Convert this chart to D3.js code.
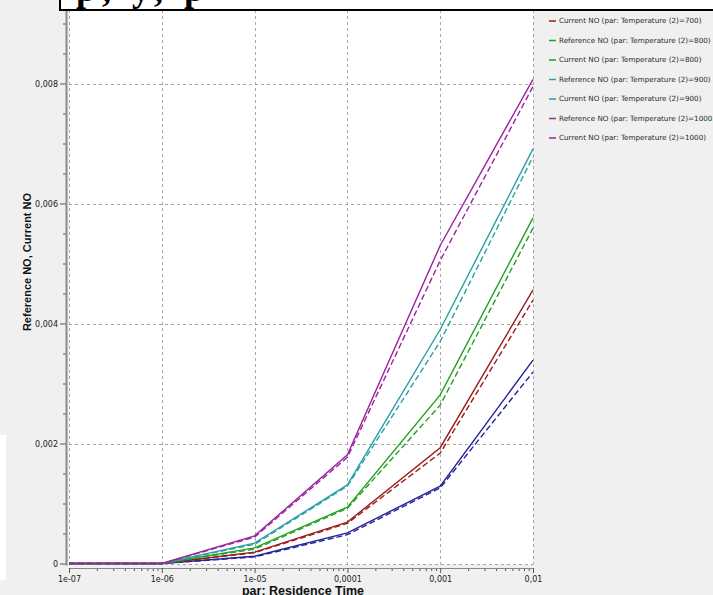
<!DOCTYPE html>
<html>
<head>
<meta charset="utf-8">
<script src="https://cdn.jsdelivr.net/npm/d3@7"></script>
<style>
  body { margin: 0; background: #f0f0f0; }
  svg { display: block; }
  .tick text { font-family: "DejaVu Sans", sans-serif; font-size: 8px; fill: #1a1a1a; }
  .tick line { stroke: #555; }
</style>
</head>
<body>
<script>
// Data
const residenceTime = [1e-7, 1e-6, 1e-5, 1e-4, 1e-3, 1e-2];
const temperatures = [600, 700, 800, 900, 1000];
const colors = ["#23239b", "#9b1c1c", "#23a023", "#2a9fa8", "#9d229f"];
const referenceNO = [
  [0, 0, 0.00012, 0.00051, 0.00129, 0.00339],
  [0, 0, 0.00019, 0.00069, 0.00193, 0.00456],
  [0, 0, 0.00026, 0.00094, 0.00281, 0.00576],
  [0, 0, 0.00034, 0.00131, 0.00390, 0.00691],
  [0, 0, 0.00046, 0.00181, 0.00530, 0.00807]
];
const currentNO = [
  [0, 0, 0.00011, 0.00048, 0.00126, 0.00319],
  [0, 0, 0.00018, 0.00067, 0.00184, 0.00439],
  [0, 0, 0.00024, 0.00092, 0.00264, 0.00559],
  [0, 0, 0.00032, 0.00129, 0.00370, 0.00678],
  [0, 0, 0.00044, 0.00177, 0.00505, 0.00795]
];
const xTicks = [1e-7, 1e-6, 1e-5, 1e-4, 1e-3, 1e-2];
const xTickLabels = ["1e-07", "1e-06", "1e-05", "0,0001", "0,001", "0,01"];
const yTicks = [0, 0.002, 0.004, 0.006, 0.008];
const yTickLabels = ["0", "0,002", "0,004", "0,006", "0,008"];

const W = 713, H = 595;
const plot = { left: 69, right: 533, top: 10, bottom: 563.5 };

const svg = d3.select("body").append("svg")
  .attr("width", W)
  .attr("height", H);

const x = d3.scaleLog()
  .domain([1e-7, 1e-2])
  .range([plot.left, plot.right]);

const y = d3.scaleLinear()
  .domain([0, 0.009225])
  .range([plot.bottom, plot.top]);

// small white strip at the left edge
svg.append("rect")
  .attr("x", 0).attr("y", 435).attr("width", 6).attr("height", 145)
  .attr("fill", "#fff");

// plot background
svg.append("rect")
  .attr("x", plot.left).attr("y", plot.top)
  .attr("width", plot.right - plot.left).attr("height", plot.bottom - plot.top + 1)
  .attr("fill", "#fff");

// grid
const grid = svg.append("g")
  .attr("stroke", "#a8a8a8")
  .attr("stroke-dasharray", "3,3");
grid.selectAll(".vg")
  .data(xTicks)
  .enter().append("line")
  .attr("x1", d => Math.round(x(d)) + 0.5).attr("x2", d => Math.round(x(d)) + 0.5)
  .attr("y1", plot.top).attr("y2", plot.bottom + 1);
grid.selectAll(".hg")
  .data(yTicks)
  .enter().append("line")
  .attr("x1", plot.left).attr("x2", plot.right)
  .attr("y1", d => Math.round(y(d)) + 0.5).attr("y2", d => Math.round(y(d)) + 0.5);

// y axis
const yMinor = d3.range(0, 0.00925, 0.0005).filter((d, i) => i % 4 !== 0);
svg.append("g")
  .attr("transform", "translate(66,0)")
  .call(d3.axisLeft(y).tickValues(yMinor).tickSize(3).tickSizeOuter(0).tickFormat(""))
  .call(g => g.select(".domain").remove());
svg.append("g")
  .attr("transform", "translate(66,0)")
  .call(d3.axisLeft(y).tickValues(yTicks).tickSize(6).tickSizeOuter(0)
    .tickFormat((d, i) => yTickLabels[i]))
  .call(g => g.select(".domain").remove())
  .call(g => g.selectAll(".tick text").attr("x", -8));
svg.append("line")
  .attr("x1", 66.5).attr("x2", 66.5)
  .attr("y1", 0).attr("y2", plot.bottom + 2)
  .attr("stroke", "#8a8a8a").attr("stroke-width", 2);

// x axis
const xMinor = [];
xTicks.slice(0, -1).forEach(t => {
  for (let k = 2; k <= 9; k++) xMinor.push(t * k);
});
svg.append("g")
  .attr("transform", "translate(0,568)")
  .call(d3.axisBottom(x).tickValues(xMinor).tickSize(3).tickSizeOuter(0).tickFormat(""))
  .call(g => g.select(".domain").remove());
svg.append("g")
  .attr("transform", "translate(0,568)")
  .call(d3.axisBottom(x).tickValues(xTicks).tickSize(5).tickSizeOuter(0)
    .tickFormat((d, i) => xTickLabels[i]))
  .call(g => g.select(".domain").attr("stroke", "#888"))
  .call(g => g.selectAll(".tick text").attr("y", 8));

// lines
const line = d3.line()
  .x((d, i) => x(residenceTime[i]))
  .y(d => y(d));

temperatures.forEach((t, k) => {
  svg.append("path")
    .datum(currentNO[k])
    .attr("fill", "none")
    .attr("stroke", colors[k])
    .attr("stroke-width", 1.4)
    .attr("stroke-dasharray", "6,3")
    .attr("d", line);
  svg.append("path")
    .datum(referenceNO[k])
    .attr("fill", "none")
    .attr("stroke", colors[k])
    .attr("stroke-width", 1.4)
    .attr("d", line);
});

// axis titles
svg.append("text")
  .attr("transform", "translate(31,262) rotate(-90)")
  .attr("text-anchor", "middle")
  .attr("font-family", "Liberation Sans, Arial, sans-serif")
  .attr("font-weight", "bold")
  .attr("font-size", "11px")
  .attr("fill", "#111")
  .text("Reference NO, Current NO");

svg.append("text")
  .attr("x", 303).attr("y", 595)
  .attr("text-anchor", "middle")
  .attr("font-family", "Liberation Sans, Arial, sans-serif")
  .attr("font-weight", "bold")
  .attr("font-size", "12.5px")
  .attr("fill", "#111")
  .text("par: Residence Time");

// legend
const legendItems = [];
temperatures.forEach((t, k) => {
  legendItems.push({ name: "Reference NO (par: Temperature (2)=" + t + ")", color: colors[k] });
  legendItems.push({ name: "Current NO (par: Temperature (2)=" + t + ")", color: colors[k] });
});
const legend = svg.append("g");
const rows = legend.selectAll(".row")
  .data(legendItems)
  .enter().append("g")
  .attr("transform", (d, i) => `translate(549,${21 + (i - 3) * 19.5})`);
rows.append("line")
  .attr("x1", 0).attr("x2", 7)
  .attr("stroke", d => d.color)
  .attr("stroke-width", 1.5);
rows.append("text")
  .attr("x", 10).attr("dy", "0.33em")
  .attr("font-family", "DejaVu Sans, sans-serif")
  .attr("font-size", "7.2px")
  .attr("fill", "#2a2a2a")
  .text(d => d.name);

// title box, mostly outside the window
svg.append("rect")
  .attr("x", 60).attr("y", -40)
  .attr("width", 700).attr("height", 50)
  .attr("fill", "#fff")
  .attr("stroke", "#000")
  .attr("stroke-width", 2);
svg.append("text")
  .attr("x", 76).attr("y", 1)
  .attr("font-family", "Liberation Serif, serif")
  .attr("font-weight", "bold")
  .attr("font-size", "36px")
  .attr("letter-spacing", "6px")
  .attr("fill", "#000")
  .text("p, y, p");
</script>
</body>
</html>
